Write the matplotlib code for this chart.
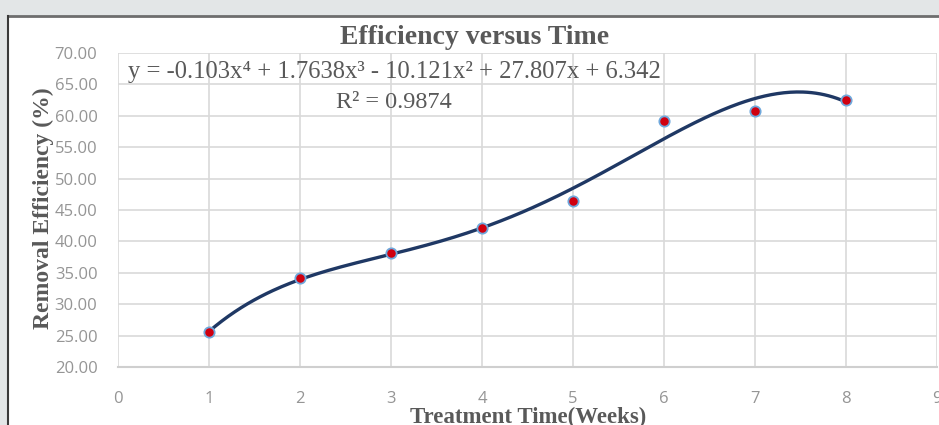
import numpy as np
import matplotlib.pyplot as plt
from matplotlib.patches import Rectangle
from matplotlib.lines import Line2D

# Données
weeks = [1, 2, 3, 4, 5, 6, 7, 8]
efficiency = [25.6, 34.1, 38.1, 42.1, 46.4, 59.2, 60.7, 62.5]
coefs = [-0.103, 1.7638, -10.121, 27.807, 6.342]  # courbe de tendance (ordre 4)
x_ticks = [0, 1, 2, 3, 4, 5, 6, 7, 8, 9]
y_ticks = [20, 25, 30, 35, 40, 45, 50, 55, 60, 65, 70]

W, H = 939, 425
fig = plt.figure(figsize=(W / 100, H / 100), dpi=100)
fig.patch.set_facecolor('white')

# Fond gris + bordure du cadre
fig.add_artist(Rectangle((0, 0), 1, 1, transform=fig.transFigure,
                         facecolor='#e3e6e7', edgecolor='none', zorder=-3))
fig.add_artist(Rectangle((7.5 / W, 0), 1, 1 - 15.5 / H, transform=fig.transFigure,
                         facecolor='white', edgecolor='none', zorder=-2))
fig.add_artist(Line2D([7.5 / W, 1], [1 - 15.5 / H] * 2, transform=fig.transFigure,
                      color='#6e6e6e', lw=2, zorder=-1))
fig.add_artist(Line2D([7.5 / W] * 2, [0, 1 - 15.5 / H], transform=fig.transFigure,
                      color='#3a3a3a', lw=1.5, zorder=-1))

left, right = 118.3 / W, 936.5 / W
bottom, top = 1 - 367 / H, 1 - 53 / H
ax = fig.add_axes([left, bottom, right - left, top - bottom])
ax.set_facecolor('none')

ax.set_xlim(0, 9)
ax.set_ylim(20, 70)
ax.set_xticks(x_ticks)
ax.set_yticks(y_ticks)
ax.set_yticklabels([f"{v:.2f}" for v in y_ticks])
ax.grid(True, color='#d9d9d9', lw=1.2)
ax.set_axisbelow(True)
for s in ['top', 'right', 'left']:
    ax.spines[s].set_visible(False)
ax.spines['bottom'].set_color('#cfcfcf')
ax.spines['bottom'].set_linewidth(1.5)
ax.tick_params(length=0, colors='#959595', labelsize=12)
ax.tick_params(axis='y', pad=15)
ax.tick_params(axis='x', pad=17)
for lab in ax.get_xticklabels() + ax.get_yticklabels():
    lab.set_family('Open Sans')

# Courbe de tendance
xs = np.linspace(weeks[0], weeks[-1], 300)
ax.plot(xs, np.polyval(coefs, xs), color='#1f3864', lw=2.4, zorder=3)

# Points
ax.scatter(weeks, efficiency, s=55, color='#d0000f', edgecolor='#6fa8dc',
           linewidth=1.3, zorder=4)

serif = ['Liberation Serif', 'DejaVu Serif']
fig.text(475 / W, 1 - 37 / H, "Efficiency versus Time", ha='center',
         va='center', family=serif, weight='bold', fontsize=20, color='#595959')
fig.text(128 / W, 1 - 72 / H,
         "y = -0.103x\u2074 + 1.7638x\u00b3 - 10.121x\u00b2 + 27.807x + 6.342",
         ha='left', va='center', family=serif, fontsize=17.7, color='#595959')
fig.text(394 / W, 1 - 103 / H, "R\u00b2 = 0.9874", ha='center', va='center',
         family=serif, fontsize=17.5, color='#595959')
fig.text(43 / W, 1 - 208 / H, "Removal Efficiency (%)", rotation=90, ha='center',
         va='center', family=serif, weight='bold', fontsize=17, color='#595959')
fig.text(528 / W, 1 - 417 / H, "Treatment Time(Weeks)", ha='center',
         va='center', family=serif, weight='bold', fontsize=16.5, color='#595959')

plt.savefig("out.png", dpi=100)
